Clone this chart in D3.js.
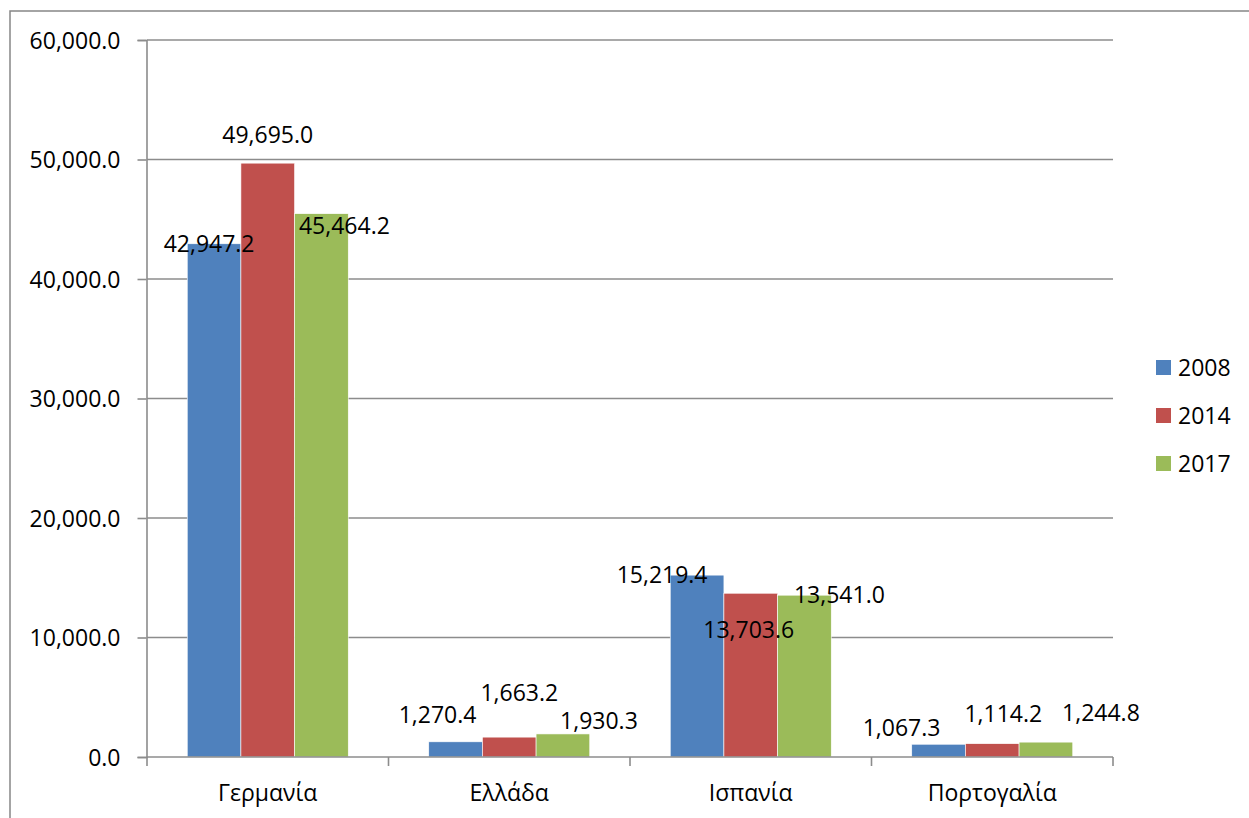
<!DOCTYPE html>
<html><head><meta charset="utf-8">
<script src="https://cdn.jsdelivr.net/npm/d3@7"></script>
<style>body{margin:0;background:#fff}svg{display:block}text{font-family:"Open Sans",sans-serif;fill:#000}</style>
</head><body><svg id="c" width="1249" height="818"></svg>
<script>
const categories = ["Γερμανία","Ελλάδα","Ισπανία","Πορτογαλία"];
const seriesNames = ["2008","2014","2017"];
const v2008 = [42947.2, 1270.4, 15219.4, 1067.3];
const v2014 = [49695.0, 1663.2, 13703.6, 1114.2];
const v2017 = [45464.2, 1930.3, 13541.0, 1244.8];
const yTicks = [0,10000,20000,30000,40000,50000,60000];
const colors = ["#4F81BD","#C0504D","#9BBB59"];
// label offsets (layout only) relative to bar top centre: [dx, dy]
const labelOffsets = [
  [[-5,0],[0,-28],[23,12]],
  [[-18,-27],[10,-44],[36,-13]],
  [[-35,0],[-2,37],[35,0]],
  [[-37,-16],[11,-30],[55,-29]]
];
const values = [v2008, v2014, v2017];
const FS = 23;

const svg = d3.select("#c");
const L=147, R=1113, T=40, B=757;
svg.append("rect").attr("x",10).attr("y",11).attr("width",1260).attr("height",830)
  .attr("fill","none").attr("stroke","#868686").attr("stroke-width",1.5);

const y = d3.scaleLinear().domain([0,60000]).range([B,T]);
const x0 = d3.scaleBand().domain(categories).range([L,R]).paddingInner(1/3).paddingOuter(1/6);
const x1 = d3.scaleBand().domain(seriesNames).range([0,x0.bandwidth()]);

// grid
svg.append("g").selectAll("line").data(yTicks.filter(d=>d>0)).join("line")
  .attr("x1",L).attr("x2",R).attr("y1",d=>y(d)).attr("y2",d=>y(d))
  .attr("stroke","#8c8c8c").attr("stroke-width",1.6);

// y axis
const ya = svg.append("g").attr("transform",`translate(${L-0.5},0)`)
  .call(d3.axisLeft(y).tickValues(yTicks).tickSize(9).tickPadding(17).tickFormat(d3.format(",.1f")));
ya.select(".domain").attr("stroke","#8c8c8c").attr("stroke-width",1.6);
ya.selectAll(".tick line").attr("stroke","#8c8c8c").attr("stroke-width",1.6);
ya.selectAll("text").attr("font-size",FS).attr("font-family","Open Sans").attr("dy","0.35em");

// bars
categories.forEach((c,ci)=>{
  seriesNames.forEach((s,si)=>{
    svg.append("rect").attr("x",x0(c)+x1(s)).attr("y",y(values[si][ci]))
      .attr("width",x1.bandwidth()).attr("height",B-y(values[si][ci]))
      .attr("fill",colors[si]).attr("stroke","#fff").attr("stroke-width",0.6);
  });
});

// x axis
svg.append("line").attr("x1",L-0.5).attr("x2",R).attr("y1",B).attr("y2",B)
  .attr("stroke","#8c8c8c").attr("stroke-width",1.6);
const bounds = categories.map(c=>x0(c)-x0.step()*x0.paddingInner()/2).concat([R]);
svg.append("g").selectAll("line").data(bounds).join("line")
  .attr("x1",d=>d).attr("x2",d=>d).attr("y1",B).attr("y2",B+9)
  .attr("stroke","#8c8c8c").attr("stroke-width",1.6);
svg.append("g").selectAll("text").data(categories).join("text")
  .attr("x",d=>x0(d)+x0.bandwidth()/2).attr("y",801).attr("text-anchor","middle")
  .attr("font-size",FS).text(d=>d);

// labels
const fmt = d3.format(",.1f");
categories.forEach((c,ci)=>{
  seriesNames.forEach((s,si)=>{
    const v = values[si][ci], o = labelOffsets[ci][si];
    svg.append("text").attr("x",x0(c)+x1(s)+x1.bandwidth()/2+o[0]).attr("y",y(v)+o[1])
      .attr("dy","0.35em").attr("text-anchor","middle").attr("font-size",FS).text(fmt(v));
  });
});

// legend
const lg = svg.append("g");
seriesNames.forEach((s,i)=>{
  const cy = 368+i*48;
  lg.append("rect").attr("x",1156).attr("y",cy-8).attr("width",15).attr("height",15).attr("fill",colors[i]);
  lg.append("text").attr("x",1178).attr("y",cy).attr("dy","0.35em").attr("font-size",FS).text(s);
});
</script></body></html>
